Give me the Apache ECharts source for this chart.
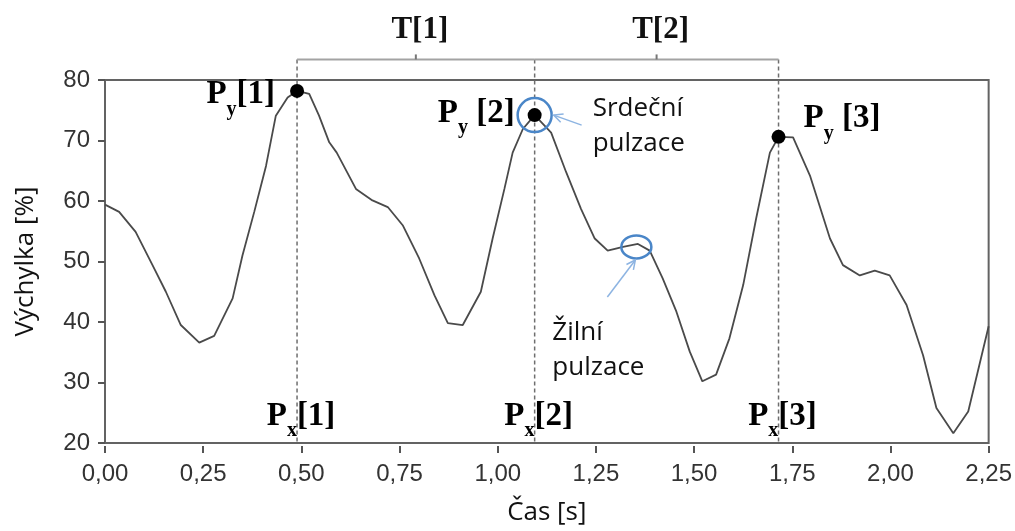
<!DOCTYPE html>
<html>
<head>
<meta charset="utf-8">
<script src="https://cdn.jsdelivr.net/npm/echarts@6/dist/echarts.min.js"></script>
<style>
  html, body { margin: 0; padding: 0; background: #ffffff; }
  #chart { width: 1015px; height: 531px; }
</style>
</head>
<body>
<div id="chart"></div>
<script>
// Pulse waveform samples: time [s] and deflection [%]
const timeS = [
  0.000, 0.036, 0.078, 0.121, 0.155, 0.193, 0.240, 0.278, 0.325, 0.350,
  0.380, 0.410, 0.435, 0.465, 0.489, 0.520, 0.545, 0.571, 0.590, 0.639,
  0.681, 0.720, 0.758, 0.800, 0.839, 0.873, 0.911, 0.957, 0.987, 1.017,
  1.038, 1.064, 1.094, 1.136, 1.174, 1.212, 1.247, 1.280, 1.319, 1.357,
  1.387, 1.420, 1.455, 1.489, 1.521, 1.556, 1.590, 1.625, 1.658, 1.693,
  1.715, 1.752, 1.795, 1.846, 1.879, 1.922, 1.960, 1.998, 2.041, 2.083,
  2.117, 2.160, 2.198, 2.250
];
const deflection = [
  59.4, 58.2, 54.9, 49.4, 45.0, 39.5, 36.6, 37.7, 43.9, 51.0,
  58.2, 65.8, 74.1, 77.1, 78.2, 77.7, 74.1, 69.7, 68.0, 62.0,
  60.1, 59.0, 56.0, 50.5, 44.4, 39.8, 39.5, 45.0, 53.8, 62.0,
  68.0, 71.9, 74.2, 71.3, 64.8, 58.7, 53.8, 51.8, 52.4, 52.9,
  51.8, 47.2, 41.7, 35.1, 30.2, 31.3, 37.3, 46.1, 57.1, 68.0,
  70.6, 70.5, 64.2, 53.8, 49.4, 47.7, 48.5, 47.7, 42.8, 34.5,
  25.8, 21.6, 25.2, 39.3
];

// Detected systolic peaks
const peakTimes = [0.489, 1.094, 1.715];
const peakValues = [78.2, 74.2, 70.6];
const peakIndexText = ['[1]', ' [2]', ' [3]'];
const positionIndexText = ['[1]', '[2]', '[3]'];
const periodLabels = ['T[1]', 'T[2]'];

// Highlighted pulsations: cardiac (at peak 2) and venous
const pulsationTimes = [1.094, 1.353];
const pulsationValues = [74.2, 52.4];
const pulsationLabels = ['Srdeční\npulzace', 'Žilní\npulzace'];

// Axis setup
const xMin = 0, xMax = 2.25, xStep = 0.25;
const yMin = 20, yMax = 80, yStep = 10;
const xName = 'Čas [s]';
const yName = 'Výchylka [%]';

// Data-space anchors for annotation elements
const BRACKET_LEVEL = 83.4;
const PX_LABEL_LEVEL = 23.8;

const SERIF = '"Liberation Serif", "Times New Roman", serif';
const SANS = '"Open Sans", "Noto Sans", sans-serif';
const TICK_FONT = '"Liberation Sans", Arial, sans-serif';

function subLabel(sub, tail) {
  return '{m|P}{s|' + sub + '}{m|' + tail + '}';
}
const subRich = {
  m: { fontFamily: SERIF, fontWeight: 'bold', fontSize: 33, lineHeight: 36, verticalAlign: 'top', color: '#111' },
  s: { fontFamily: SERIF, fontWeight: 'bold', fontSize: 20, padding: [21, 0, 0, 0], verticalAlign: 'top', color: '#111' }
};

// Py label placement relative to each peak dot (pixels)
const pyPlacement = [
  { align: 'right', dx: -22, dy: 8 },
  { align: 'right', dx: -20, dy: 2 },
  { align: 'left', dx: 25, dy: -14 }
];

const chart = echarts.init(document.getElementById('chart'), null, { renderer: 'canvas' });

const option = {
  animation: false,
  backgroundColor: '#ffffff',
  grid: {
    left: 105, right: 26, top: 80, bottom: 86,
    show: true, borderColor: '#636363', borderWidth: 2, backgroundColor: 'transparent'
  },
  xAxis: {
    type: 'value', min: xMin, max: xMax, interval: xStep,
    offset: 3,
    axisLine: { show: false },
    axisTick: { show: true, length: 7, lineStyle: { color: '#555', width: 2 } },
    splitLine: { show: false },
    axisLabel: {
      margin: 16, color: '#333', fontSize: 24, fontFamily: TICK_FONT,
      formatter: v => v.toFixed(2).replace('.', ',')
    },
    name: xName, nameLocation: 'middle', nameGap: 54,
    nameTextStyle: { fontFamily: SANS, fontSize: 26, color: '#111' }
  },
  yAxis: {
    type: 'value', min: yMin, max: yMax, interval: yStep,
    offset: 3,
    axisLine: { show: false },
    axisTick: { show: true, length: 7, lineStyle: { color: '#555', width: 2 } },
    splitLine: { show: false },
    axisLabel: {
      margin: 12, color: '#333', fontSize: 24, fontFamily: TICK_FONT
    },
    name: yName, nameLocation: 'middle', nameGap: 63, nameRotate: 90,
    nameTextStyle: { fontFamily: SANS, fontSize: 26, color: '#111' }
  },
  series: [
    {
      name: 'signal',
      type: 'line',
      data: timeS.map((t, i) => [t, deflection[i]]),
      showSymbol: false,
      smooth: false,
      lineStyle: { color: '#4a4a4a', width: 1.8 },
      z: 3
    },
    {
      // Peak markers: dashed time markers, dots and P labels
      name: 'peaks',
      type: 'custom',
      clip: false,
      silent: true,
      z: 4,
      data: peakTimes.map((t, i) => [t, peakValues[i]]),
      renderItem: function (params, api) {
        const i = params.dataIndex;
        const t = api.value(0), v = api.value(1);
        const top = api.coord([t, BRACKET_LEVEL]);
        const bottom = api.coord([t, yMin]);
        const dot = api.coord([t, v]);
        const pxPos = api.coord([t, PX_LABEL_LEVEL]);
        const pl = pyPlacement[i];
        return {
          type: 'group',
          children: [
            {
              type: 'line',
              shape: { x1: top[0], y1: top[1], x2: bottom[0], y2: bottom[1] },
              style: { stroke: '#6e6e6e', lineWidth: 1.5, lineDash: [4, 3] }
            },
            {
              type: 'circle',
              shape: { cx: dot[0], cy: dot[1], r: 7 },
              style: { fill: '#000' }
            },
            {
              type: 'text',
              style: {
                text: subLabel('y', peakIndexText[i]), rich: subRich,
                x: dot[0] + pl.dx, y: dot[1] + pl.dy,
                align: pl.align, verticalAlign: 'middle'
              }
            },
            {
              type: 'text',
              style: {
                text: subLabel('x', positionIndexText[i]), rich: subRich,
                x: pxPos[0] + 4, y: pxPos[1],
                align: 'center', verticalAlign: 'middle'
              }
            }
          ]
        };
      }
    },
    {
      // Period brackets between consecutive peaks
      name: 'periods',
      type: 'custom',
      clip: false,
      silent: true,
      z: 4,
      data: periodLabels.map((_, i) => [peakTimes[i], peakTimes[i + 1]]),
      renderItem: function (params, api) {
        const i = params.dataIndex;
        const a = api.coord([api.value(0), BRACKET_LEVEL]);
        const b = api.coord([api.value(1), BRACKET_LEVEL]);
        const mid = (a[0] + b[0]) / 2;
        return {
          type: 'group',
          children: [
            {
              type: 'line',
              shape: { x1: a[0], y1: a[1], x2: b[0], y2: b[1] },
              style: { stroke: '#a3a3a3', lineWidth: 2 }
            },
            {
              type: 'line',
              shape: { x1: mid, y1: a[1], x2: mid, y2: a[1] - 5 },
              style: { stroke: '#777', lineWidth: 2 }
            },
            {
              type: 'text',
              style: {
                text: periodLabels[i], x: mid + 4, y: a[1] - 29,
                align: 'center', verticalAlign: 'middle',
                fontFamily: SERIF, fontWeight: 'bold', fontSize: 31, fill: '#111'
              }
            }
          ]
        };
      }
    },
    {
      // Highlighted pulsations: blue rings, arrows and captions
      name: 'pulsations',
      type: 'custom',
      clip: false,
      silent: true,
      z: 5,
      data: pulsationTimes.map((t, i) => [t, pulsationValues[i]]),
      renderItem: function (params, api) {
        const i = params.dataIndex;
        const c = api.coord([api.value(0), api.value(1)]);
        const ring = i === 0 ? { rx: 17, ry: 17 } : { rx: 15, ry: 11.5 };
        const arrow = i === 0
          ? { from: [c[0] + 47, c[1] + 10], to: [c[0] + 19, c[1]] }
          : { from: [c[0] - 29, c[1] + 50], to: [c[0] - 1, c[1] + 13] };
        const text = i === 0
          ? { x: c[0] + 58, y: c[1] + 11 }
          : { x: c[0] - 84, y: c[1] + 103 };
        const dx = arrow.to[0] - arrow.from[0], dy = arrow.to[1] - arrow.from[1];
        const ang = Math.atan2(dy, dx);
        const hl = 10, spread = 0.45;
        const h1 = [arrow.to[0] - hl * Math.cos(ang - spread), arrow.to[1] - hl * Math.sin(ang - spread)];
        const h2 = [arrow.to[0] - hl * Math.cos(ang + spread), arrow.to[1] - hl * Math.sin(ang + spread)];
        return {
          type: 'group',
          children: [
            {
              type: 'ellipse',
              shape: { cx: c[0], cy: c[1], rx: ring.rx, ry: ring.ry },
              style: { fill: 'none', stroke: '#4a86c8', lineWidth: 2.5 }
            },
            {
              type: 'polyline',
              shape: { points: [arrow.from, arrow.to] },
              style: { fill: 'none', stroke: '#8db4e2', lineWidth: 1.5 }
            },
            {
              type: 'polyline',
              shape: { points: [h1, arrow.to, h2] },
              style: { fill: 'none', stroke: '#8db4e2', lineWidth: 1.5 }
            },
            {
              type: 'text',
              style: {
                text: pulsationLabels[i], x: text.x, y: text.y,
                align: 'left', verticalAlign: 'middle',
                fontFamily: SANS, fontSize: 26, lineHeight: 35, fill: '#111'
              }
            }
          ]
        };
      }
    }
  ]
};

chart.setOption(option);
</script>
</body>
</html>
